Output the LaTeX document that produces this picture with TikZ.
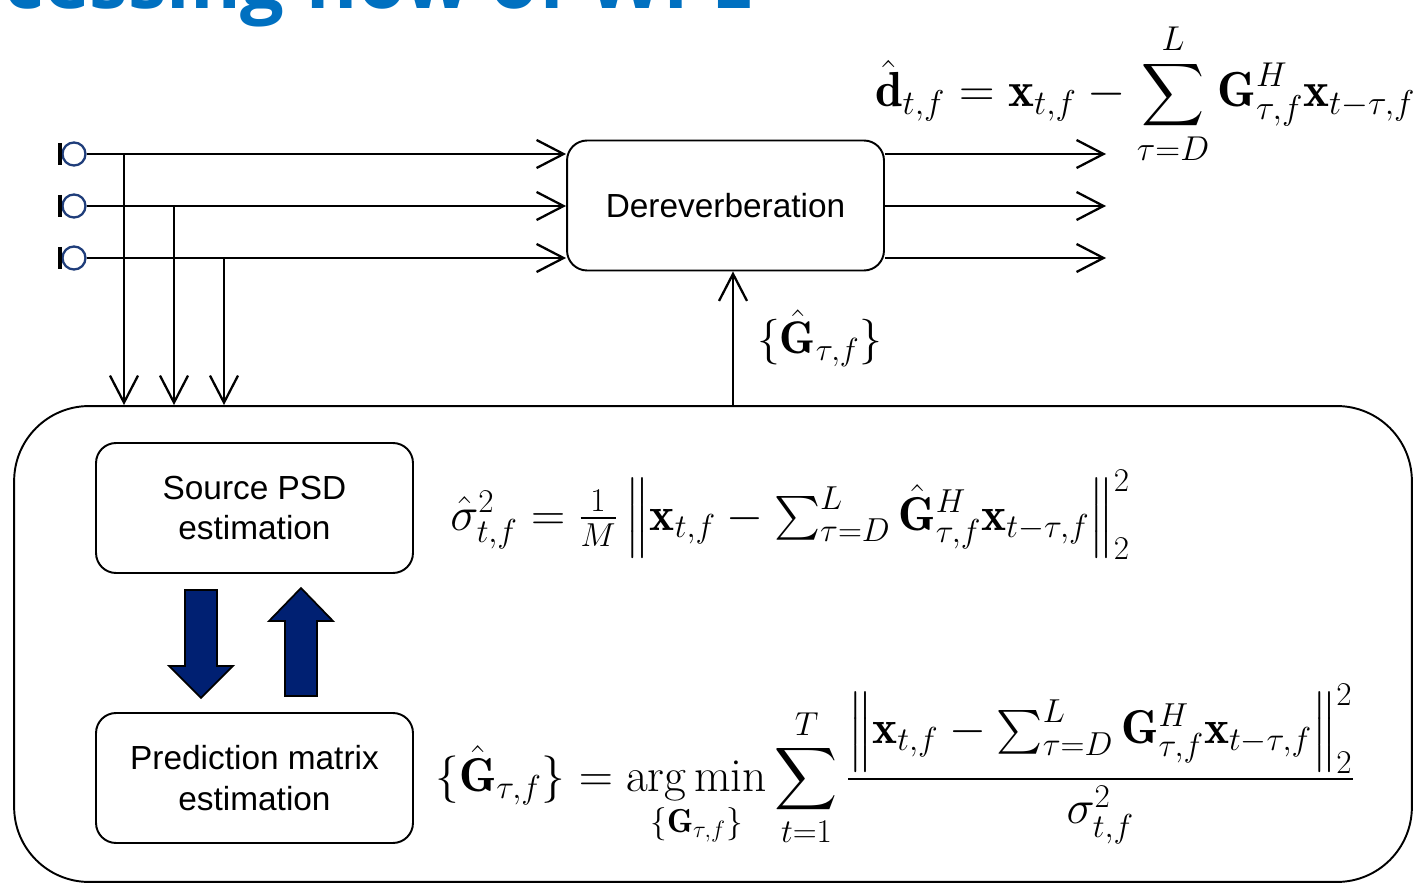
\RequirePackage{fix-cm}
\documentclass[tikz,border=0pt]{standalone}
\usepackage{amsmath}
\usepackage{fontspec}
\setsansfont{Liberation Sans}
\newfontfamily\headfont{Open Sans}
\usetikzlibrary{arrows.meta,positioning,calc}
\definecolor{wpeblue}{HTML}{0070C0}
\definecolor{wpenavy}{HTML}{002072}
\definecolor{micnavy}{HTML}{1F3D7A}
\tikzset{
  block/.style={rectangle, rounded corners=0.4cm, draw=black, line width=1.1pt, minimum width=6.34cm, minimum height=2.6cm, align=center, font=\sffamily\fontsize{19}{23}\selectfont},
  frame/.style={rectangle, rounded corners=1.5cm, draw=black, line width=1.1pt, minimum width=27.96cm, minimum height=9.52cm},
  mic/.style={circle, draw=micnavy, line width=1.3pt, minimum size=0.46cm, inner sep=0pt},
  wire/.style={line width=1.3pt},
  flow/.style={wire, -{Straight Barb[length=5.4mm,width=5.6mm,line width=1.3pt]}},
  blockarrow/.style={draw=black, line width=1pt, fill=wpenavy},
  eq/.style={inner sep=0pt, font=\fontsize{27}{32}\selectfont},
}
\begin{document}
\begin{tikzpicture}[x=0.02cm, y=-0.02cm]
  \useasboundingbox (0,0) rectangle (1422,884);
  % title, cut by the page edge
  \node[anchor=base west, inner sep=0pt, text=wpeblue, font=\headfont\bfseries\fontsize{44}{44}\selectfont] (title) at (4,9) {cessing flow of WPE};

  \node[block] (derev) at (725.5,205.5) {Dereverberation};
  \node[frame] (est) at (713,644) {};
  \node[block] (psd) at (254.5,508) {Source PSD\\estimation};
  \node[block] (pred) at (254.5,778) {Prediction matrix\\estimation};

  % microphones and their signals
  \foreach \i/\y in {1/154,2/206,3/258} {
    \node[mic] (m\i) at (74,\y) {};
    \draw[line width=2.2pt] ([shift={(-1,-11)}]m\i.west) -- ([shift={(-1,11)}]m\i.west);
    \draw[flow] (m\i.east) -- (derev.west |- m\i);
    \coordinate (o\i) at (1106,\y);
    \draw[flow] (derev.east |- m\i) -- (o\i);
  }
  \foreach \i/\x in {1/124,2/174,3/224} {
    \coordinate (d\i) at (\x,0);
    \draw[flow] (d\i |- m\i) -- (d\i |- est.north);
  }

  % feedback of the filter
  \coordinate (fb) at (733,0);
  \draw[flow] (fb |- est.north) -- (fb |- derev.south)
    node[midway, right=0.46cm, eq, font=\fontsize{26}{30}\selectfont] (glabel) {$\{\hat{\mathbf{G}}_{\tau,f}\}$};

  % block arrows between the two estimation steps
  \draw[blockarrow] ($(psd.south)+(-69.5,16)$) -- ++(32,0) -- ++(0,76) -- ++(16,0) -- ++(-32,32) -- ++(-32,-32) -- ++(16,0) -- cycle;
  \draw[blockarrow] ($(pred.north)+(30.5,-16)$) -- ++(32,0) -- ++(0,-75) -- ++(16,0) -- ++(-32,-33) -- ++(-32,33) -- ++(16,0) -- cycle;

  % equations
  \node[eq, anchor=base west, font=\fontsize{28}{32}\selectfont] (dhat) at (875,107)
    {$\displaystyle \hat{\mathbf{d}}_{t,f} = \mathbf{x}_{t,f} - \sum_{\tau=D}^{L} \mathbf{G}^{H}_{\tau,f}\mathbf{x}_{t-\tau,f}$};
  \node[eq, anchor=base west] (sighat) at (450,530)
    {$\hat{\sigma}^2_{t,f} = \tfrac{1}{M}\left\|\mathbf{x}_{t,f} - \sum_{\tau=D}^{L} \hat{\mathbf{G}}^{H}_{\tau,f}\mathbf{x}_{t-\tau,f}\right\|_2^2$};
  \node[eq, anchor=base west] (gopt) at (435,791)
    {$\displaystyle \{\hat{\mathbf{G}}_{\tau,f}\} = \operatorname*{arg\,min}_{\{\mathbf{G}_{\tau,f}\}} \sum_{t=1}^{T} \frac{\left\|\mathbf{x}_{t,f} - \sum_{\tau=D}^{L} \mathbf{G}^{H}_{\tau,f}\mathbf{x}_{t-\tau,f}\right\|_2^2}{\sigma^2_{t,f}}$};
\end{tikzpicture}
\end{document}
